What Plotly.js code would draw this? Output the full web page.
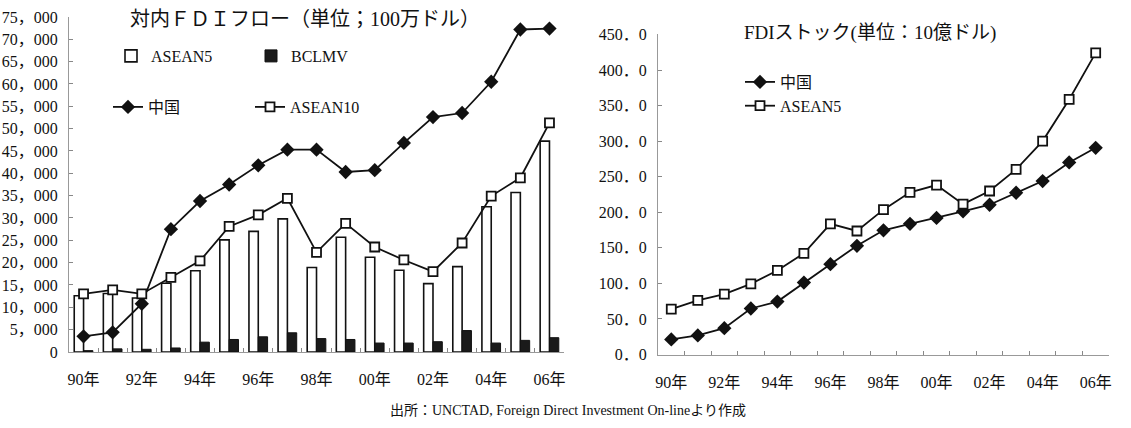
<!DOCTYPE html>
<html>
<head>
<meta charset="utf-8">
<script src="https://cdn.plot.ly/plotly-3.0.1.min.js"></script>
<style>
  html, body { margin: 0; padding: 0; background: #fff; }
  #chart { width: 1131px; height: 428px; }
</style>
</head>
<body>
<div id="chart"></div>
<script>
// Years on both category axes and the labels shown for them (every other year)
const years = ['90年','91年','92年','93年','94年','95年','96年','97年','98年','99年','00年','01年','02年','03年','04年','05年','06年'];
const yearTickText = ['90年','','92年','','94年','','96年','','98年','','00年','','02年','','04年','','06年'];

// Inward FDI flows, million US$
const asean5Flow  = [12600, 13100, 12100, 15400, 18200, 25100, 27000, 29800, 18900, 25700, 21200, 18300, 15300, 19100, 32500, 35700, 47200];
const bclmvFlow   = [300, 700, 600, 900, 2200, 2800, 3400, 4300, 3000, 2800, 2000, 2000, 2300, 4800, 2000, 2600, 3200];
const chinaFlow   = [3500, 4400, 10800, 27500, 33800, 37500, 41800, 45300, 45300, 40300, 40700, 46800, 52600, 53500, 60500, 72200, 72400];
const asean10Flow = [13000, 13900, 13000, 16700, 20400, 28100, 30700, 34400, 22300, 28800, 23500, 20600, 18000, 24400, 34900, 39000, 51300];

// Inward FDI stock, billion US$
const chinaStock  = [21.2, 26.8, 37.0, 64.7, 74.4, 101.2, 127.0, 152.9, 174.6, 183.8, 192.1, 201.4, 210.6, 227.5, 243.9, 270.1, 290.7];
const asean5Stock = [63.7, 76.2, 85.0, 99.3, 118.2, 142.3, 183.8, 173.7, 203.7, 228.0, 238.3, 211.5, 229.9, 260.3, 300.1, 358.7, 424.2];

// Value axis ticks
const flowTickVals = [0,5000,10000,15000,20000,25000,30000,35000,40000,45000,50000,55000,60000,65000,70000,75000];
const flowTickText = ['0','5，000','10，000','15，000','20，000','25，000','30，000','35，000','40，000','45，000','50，000','55，000','60，000','65，000','70，000','75，000'];
const stockTickVals = [0,50,100,150,200,250,300,350,400,450];
const stockTickText = ['0．0','50．0','100．0','150．0','200．0','250．0','300．0','350．0','400．0','450．0'];

const FONT = "'Liberation Serif', 'Noto Sans CJK JP', serif";
const INK = '#111';

const traces = [
  { type: 'bar', name: 'ASEAN5', x: years, y: asean5Flow, xaxis: 'x', yaxis: 'y',
    marker: { color: '#fff', line: { color: INK, width: 1.6 } }, legend: 'legend' },
  { type: 'bar', name: 'BCLMV', x: years, y: bclmvFlow, xaxis: 'x', yaxis: 'y',
    marker: { color: '#1a1a1a', line: { color: INK, width: 1 } }, legend: 'legend2' },
  { type: 'scatter', mode: 'lines+markers', name: '中国', x: years, y: chinaFlow, xaxis: 'x', yaxis: 'y',
    line: { color: INK, width: 1.8 }, marker: { symbol: 'diamond', size: 11, color: INK }, legend: 'legend3' },
  { type: 'scatter', mode: 'lines+markers', name: 'ASEAN10', x: years, y: asean10Flow, xaxis: 'x', yaxis: 'y',
    line: { color: INK, width: 1.8 }, marker: { symbol: 'square', size: 9, color: '#fff', line: { color: INK, width: 1.8 } }, legend: 'legend4' },
  { type: 'scatter', mode: 'lines+markers', name: '中国', x: years, y: chinaStock, xaxis: 'x2', yaxis: 'y2',
    line: { color: INK, width: 1.8 }, marker: { symbol: 'diamond', size: 11, color: INK }, legend: 'legend5' },
  { type: 'scatter', mode: 'lines+markers', name: 'ASEAN5', x: years, y: asean5Stock, xaxis: 'x2', yaxis: 'y2',
    line: { color: INK, width: 1.8 }, marker: { symbol: 'square', size: 9, color: '#fff', line: { color: INK, width: 1.8 } }, legend: 'legend5' }
];

const catAxis = {
  type: 'category', tickmode: 'array', tickvals: years, ticktext: yearTickText,
  range: [-0.5, years.length - 0.5], tickangle: 0,
  tickson: 'boundaries', ticks: 'inside', ticklen: 4, tickcolor: '#888',
  showline: true, linecolor: '#999', linewidth: 1, showgrid: false, zeroline: false,
  tickfont: { family: FONT, size: 16, color: INK }, ticklabelstandoff: 13, fixedrange: true
};
const valAxis = {
  tickmode: 'array', ticks: 'inside', ticklen: 4, tickcolor: '#888',
  showline: true, linecolor: '#999', linewidth: 1, showgrid: false, zeroline: false,
  tickfont: { family: FONT, size: 16, color: INK }, ticklabelstandoff: 7, fixedrange: true
};

const legendBase = {
  orientation: 'v', xanchor: 'left', yanchor: 'middle', bgcolor: 'rgba(0,0,0,0)',
  font: { family: FONT, size: 16, color: INK }, itemclick: false, itemdoubleclick: false
};

const layout = {
  width: 1131, height: 428,
  margin: { l: 0, r: 0, t: 0, b: 0 },
  paper_bgcolor: '#fff', plot_bgcolor: '#fff',
  barmode: 'group', bargap: 0.36, bargroupgap: 0,
  showlegend: true,
  xaxis: Object.assign({}, catAxis, { domain: [0.0610, 0.4987], anchor: 'y' }),
  yaxis: Object.assign({}, valAxis, { domain: [0.1776, 0.9603], range: [0, 75000], tickvals: flowTickVals, ticktext: flowTickText, anchor: 'x' }),
  xaxis2: Object.assign({}, catAxis, { domain: [0.5818, 0.9805], anchor: 'y2' }),
  yaxis2: Object.assign({}, valAxis, { domain: [0.1717, 0.9194], range: [0, 450], tickvals: stockTickVals, ticktext: stockTickText, anchor: 'x2' }),
  legend:  Object.assign({}, legendBase, { x: 111 / 1131, y: 1 - 56 / 428 }),
  legend2: Object.assign({}, legendBase, { x: 251 / 1131, y: 1 - 56 / 428 }),
  legend3: Object.assign({}, legendBase, { x: 108 / 1131, y: 1 - 107 / 428 }),
  legend4: Object.assign({}, legendBase, { x: 250 / 1131, y: 1 - 107 / 428 }),
  legend5: Object.assign({}, legendBase, { x: 740 / 1131, y: 1 - 94 / 428 }),
  annotations: [
    { text: '対内ＦＤＩフロー（単位；100万ドル）', xref: 'paper', yref: 'paper',
      x: 305 / 1131, y: 1 - 19 / 428, xanchor: 'center', yanchor: 'middle', showarrow: false,
      font: { family: FONT, size: 20, color: INK } },
    { text: 'FDIストック(単位：10億ドル)', xref: 'paper', yref: 'paper',
      x: 870 / 1131, y: 1 - 33 / 428, xanchor: 'center', yanchor: 'middle', showarrow: false,
      font: { family: FONT, size: 19, color: INK } },
    { text: '出所：UNCTAD, Foreign Direct Investment On-lineより作成', xref: 'paper', yref: 'paper',
      x: 568 / 1131, y: 1 - 410 / 428, xanchor: 'center', yanchor: 'middle', showarrow: false,
      font: { family: FONT, size: 14, color: INK } }
  ]
};

Plotly.newPlot('chart', traces, layout, { staticPlot: true, displayModeBar: false });
</script>
</body>
</html>
